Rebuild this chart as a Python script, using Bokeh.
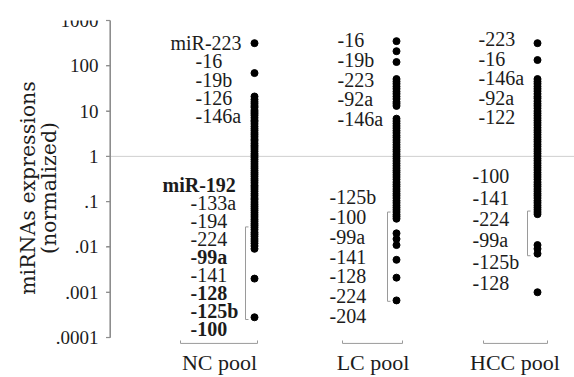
import math
from bokeh.plotting import figure
from bokeh.models import Range1d, FixedTicker, Label
from bokeh.embed import file_html
from bokeh.resources import INLINE

# ---------------- data ----------------
pools = ["NC pool", "LC pool", "HCC pool"]

nc_values = [316, 69,
             21, 18, 16, 14.5, 13, 12, 10.5, 9.6, 8.8, 8, 7.1, 6.3, 5.8, 5.2, 4.6, 4.1,
             3.7, 3.3, 3.0, 2.7, 2.4, 2.2, 1.95, 1.75, 1.6, 1.45, 1.3, 1.15, 1.05, 0.95,
             0.85, 0.76, 0.68, 0.61, 0.55, 0.49, 0.44, 0.4, 0.36, 0.32, 0.29, 0.26, 0.23,
             0.21, 0.19, 0.17, 0.15, 0.135, 0.12, 0.11, 0.098, 0.088, 0.079, 0.071, 0.064,
             0.057, 0.051, 0.046, 0.041, 0.037, 0.033, 0.03, 0.027, 0.024, 0.021, 0.019,
             0.017, 0.015, 0.0135, 0.012, 0.0105, 0.0091,
             0.002, 0.00028]

lc_values = [350, 210, 121,
             51, 45, 40, 35, 31, 27, 24, 21, 18.5, 16, 14.5, 13,
             6.8, 6.0, 5.3, 4.7, 4.2, 3.7, 3.3, 2.9, 2.6, 2.3, 2.05, 1.8, 1.6, 1.42, 1.27,
             1.12, 1.0, 0.89, 0.79, 0.7, 0.62, 0.55, 0.49, 0.44, 0.39, 0.35, 0.31, 0.27,
             0.24, 0.215, 0.19, 0.17, 0.15, 0.135, 0.12, 0.105, 0.094, 0.083, 0.074, 0.066,
             0.059, 0.052, 0.047, 0.042,
             0.020, 0.015, 0.011,
             0.0052, 0.0021, 0.00066]

hcc_values = [316, 134,
              51, 45, 40, 35, 31, 27.5, 24, 21, 19, 16.5, 14.5, 13, 11.5, 10, 8.9, 7.9, 7,
              6.2, 5.5, 4.9, 4.3, 3.8, 3.4, 3, 2.65, 2.35, 2.1, 1.85, 1.65, 1.45, 1.3, 1.15,
              1.02, 0.9, 0.8, 0.71, 0.63, 0.56, 0.5, 0.44, 0.39, 0.35, 0.31, 0.27, 0.24,
              0.215, 0.19, 0.17, 0.15, 0.135, 0.12, 0.105, 0.094, 0.083, 0.074, 0.066,
              0.059, 0.053,
              0.011, 0.0091, 0.0071,
              0.001]

# group bracket value ranges (high, low)
nc_group = (0.0277, 0.00025)
lc_group = (0.059, 0.00063)
hcc_group = (0.062, 0.0064)

# labels: upper and lower blocks per pool
nc_upper = ["miR-223", "-16", "-19b", "-126", "-146a"]
nc_lower = ["miR-192", "-133a", "-194", "-224", "-99a", "-141", "-128", "-125b", "-100"]
nc_lower_bold = [True, False, False, False, True, False, True, True, True]
lc_upper = ["-16", "-19b", "-223", "-92a", "-146a"]
lc_lower = ["-125b", "-100", "-99a", "-141", "-128", "-224", "-204"]
hcc_upper = ["-223", "-16", "-146a", "-92a", "-122"]
hcc_lower = ["-100", "-141", "-224", "-99a", "-125b", "-128"]

tick_values = [1e-4, 1e-3, 1e-2, 1e-1, 1, 10, 100, 1000]
tick_labels = [".0001", ".001", ".01", ".1", "1", "10", "100", "1000"]
y_title = ["miRNAs expressions", "(normalized)"]
threshold = 1

# ---------------- layout ----------------
FONT = "Liberation Serif"
TFONT = "DejaVu Serif"
TXT = "#1c1c1c"
GRAY = "#8e8e8e"

p = figure(width=574, height=377, x_range=Range1d(-110, 464),
           y_range=Range1d(10 ** -4.154, 1000), y_axis_type="log",
           output_backend="svg", toolbar_location=None,
           min_border_left=0, min_border_right=0, min_border_top=20,
           min_border_bottom=31)
p.outline_line_color = None
p.xgrid.visible = False
p.ygrid.visible = False

# y axis (tick labels), pinned at x = 0 inside the frame
ya = p.yaxis[0]
ya.fixed_location = 0
ya.ticker = FixedTicker(ticks=tick_values)
ya.major_label_overrides = {v: t for v, t in zip(tick_values, tick_labels)}
ya.bounds = (1e-4, 1000)
ya.axis_line_color = GRAY
ya.major_tick_line_color = GRAY
ya.major_tick_out = 4
ya.major_tick_in = 0
ya.minor_tick_line_color = None
ya.minor_tick_out = 0
ya.minor_tick_in = 0
ya.major_label_standoff = 8
ya.major_label_text_font = FONT
ya.major_label_text_font_size = "19px"
ya.major_label_text_color = TXT
if "background_fill_color" in ya.properties():
    ya.background_fill_color = None

# axis rule and tick marks as glyphs, drawn on top
p.line(x=[-0.5, -0.5], y=[tick_values[0], tick_values[-1]],
       line_color=GRAY, line_width=1.2, level="overlay")
p.multi_line(xs=[[-4.5, -0.5]] * len(tick_values), ys=[[v, v] for v in tick_values],
             line_color=GRAY, line_width=1.2, level="overlay")

# y title: two rotated lines left of the axis
title_x = [-83, -62]
title_y = 0.2
for tx, t in zip(title_x, y_title):
    p.add_layout(Label(x=tx, y=title_y, text=t, angle=math.pi / 2,
                       text_font=TFONT, text_font_size="20.5px", text_color=TXT,
                       text_align="center", text_baseline="middle"))

# x axis (category names)
cat_center = [109, 262.5, 404.5]
xa = p.xaxis[0]
xa.ticker = FixedTicker(ticks=cat_center)
xa.major_label_overrides = {c: n for c, n in zip(cat_center, pools)}
xa.axis_line_color = None
xa.major_tick_line_color = None
xa.major_tick_out = 0
xa.major_tick_in = 0
xa.minor_tick_line_color = None
xa.minor_tick_out = 0
xa.minor_tick_in = 0
xa.major_label_standoff = 5
xa.major_label_text_font = FONT
xa.major_label_text_font_size = "22px"
xa.major_label_text_color = TXT

# reference line at 1 (from the axis to the right edge)
p.segment(x0=[0], x1=[464], y0=[threshold], y1=[threshold], line_color="#cfcfcf", line_width=1)

# category brackets along the bottom
cat_lo = [70, 232, 373]
cat_hi = [147, 292, 437]
yb, yt = 10 ** -4.13, 10 ** -4.065
p.multi_line(xs=[[a, a, b, b] for a, b in zip(cat_lo, cat_hi)],
             ys=[[yt, yb, yb, yt]] * 3, line_color="#9a9a9a", line_width=1)

# group brackets
dot_x = [144, 286, 427]
br_x = [135, 277, 417]
groups = [nc_group, lc_group, hcc_group]
p.multi_line(xs=[[x + 3, x, x, x + 3] for x in br_x],
             ys=[[g[0], g[0], g[1], g[1]] for g in groups], line_color="#9a9a9a",
             line_width=1)

# dots
for x, vals in zip(dot_x, [nc_values, lc_values, hcc_values]):
    p.scatter(x=[x] * len(vals), y=vals, size=7, color="black", line_color="black")


def block(names, bold, x, anchor, spacing, first_x=None):
    for i, n in enumerate(names):
        xx = first_x if (i == 0 and first_x is not None) else x
        p.add_layout(Label(x=xx, y=anchor, y_offset=-i * spacing, text=n,
                           text_font=FONT, text_font_size="20px", text_color=TXT,
                           text_font_style="bold" if bold[i] else "normal",
                           text_baseline="middle", text_align="left"))


block(nc_upper, [False] * 5, 85, 317, 18.25, first_x=60)
block(nc_lower, nc_lower_bold, 80, 0.231, 18.0, first_x=52)
block(lc_upper, [False] * 5, 227, 369, 19.75)
block(lc_lower, [False] * 7, 219, 0.126, 19.83)
block(hcc_upper, [False] * 5, 368, 388, 19.5)
block(hcc_lower, [False] * 6, 362, 0.364, 21.4)

open("out.html", "w").write(file_html(p, INLINE))
